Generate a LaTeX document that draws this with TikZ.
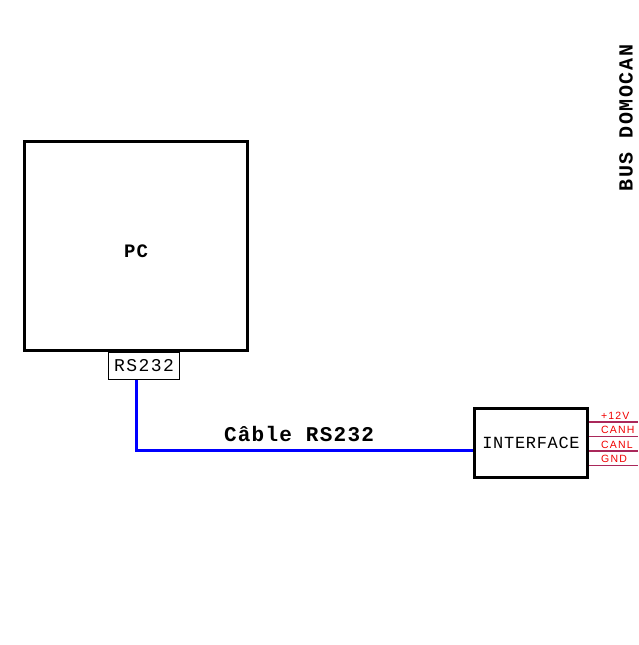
\documentclass[tikz,border=0pt]{standalone}
\usepackage{fontspec}
\newfontfamily\monofont{Liberation Mono}
\newfontfamily\wiresfont{Liberation Sans}[LetterSpace=11]
\usepackage{tikz}
\usetikzlibrary{positioning,calc}
\definecolor{cableblue}{RGB}{0,0,255}
\definecolor{buswire}{RGB}{170,40,90}
\definecolor{buslabel}{RGB}{240,0,0}

\begin{document}
\begin{tikzpicture}[
    x=1pt, y=-1pt,
    unit/.style={draw, line width=3pt, fill=white, inner sep=0pt},
    port/.style={draw, line width=0.8pt, minimum width=71pt, minimum height=27pt, inner sep=0pt,
      font=\monofont\fontsize{18}{18}\selectfont\addfontfeature{LetterSpace=8}},
    title/.style={font=\monofont\bfseries\fontsize{21}{21}\selectfont\addfontfeature{LetterSpace=6}, inner sep=0pt},
    cable/.style={cableblue, line width=3pt},
    wire/.style={buswire, line width=1.2pt},
    wirelbl/.style={buslabel, anchor=south west, inner sep=0pt, font=\wiresfont\fontsize{10.5}{10.5}\selectfont}
]
\useasboundingbox (0,0) rectangle (638,645);

% PC and its serial port
\node[unit, minimum width=223pt, minimum height=209pt] (pc) at (136,246) {};
\node[title, font=\monofont\bfseries\fontsize{19}{19}\selectfont\addfontfeature{LetterSpace=6}] (pclbl) at (136,251) {PC};
\node[port, below=0pt of pc, xshift=8pt] (rs) {RS232};

% interface box
\node[unit, minimum width=113pt, minimum height=69pt,
  font=\monofont\fontsize{17}{17}\selectfont\addfontfeature{LetterSpace=4}] (iface) at (531,443) {INTERFACE};

% RS232 cable
\draw[cable] (rs.south -| pc.south) |- ($(iface.west)+(0,7)$);
\node[title] (cablelbl) at (299,434) {Câble RS232};

% bus wires
\coordinate (busend) at (638,443);
\foreach \dy/\txt/\n in {-21/+12V/v12, -6.5/CANH/canh, 8/CANL/canl, 22.5/GND/gnd} {
  \draw[wire] ($(iface.east)+(0,\dy)$) -- ($(busend)+(0,\dy)$);
  \node[wirelbl] (\n) at ($(busend)+(-37,\dy-2.5)$) {\txt};
}
\node[title, font=\monofont\bfseries\fontsize{20}{20}\selectfont\addfontfeature{LetterSpace=8}, rotate=90] (buslbl) at (626,118) {BUS DOMOCAN};
\end{tikzpicture}
\end{document}
